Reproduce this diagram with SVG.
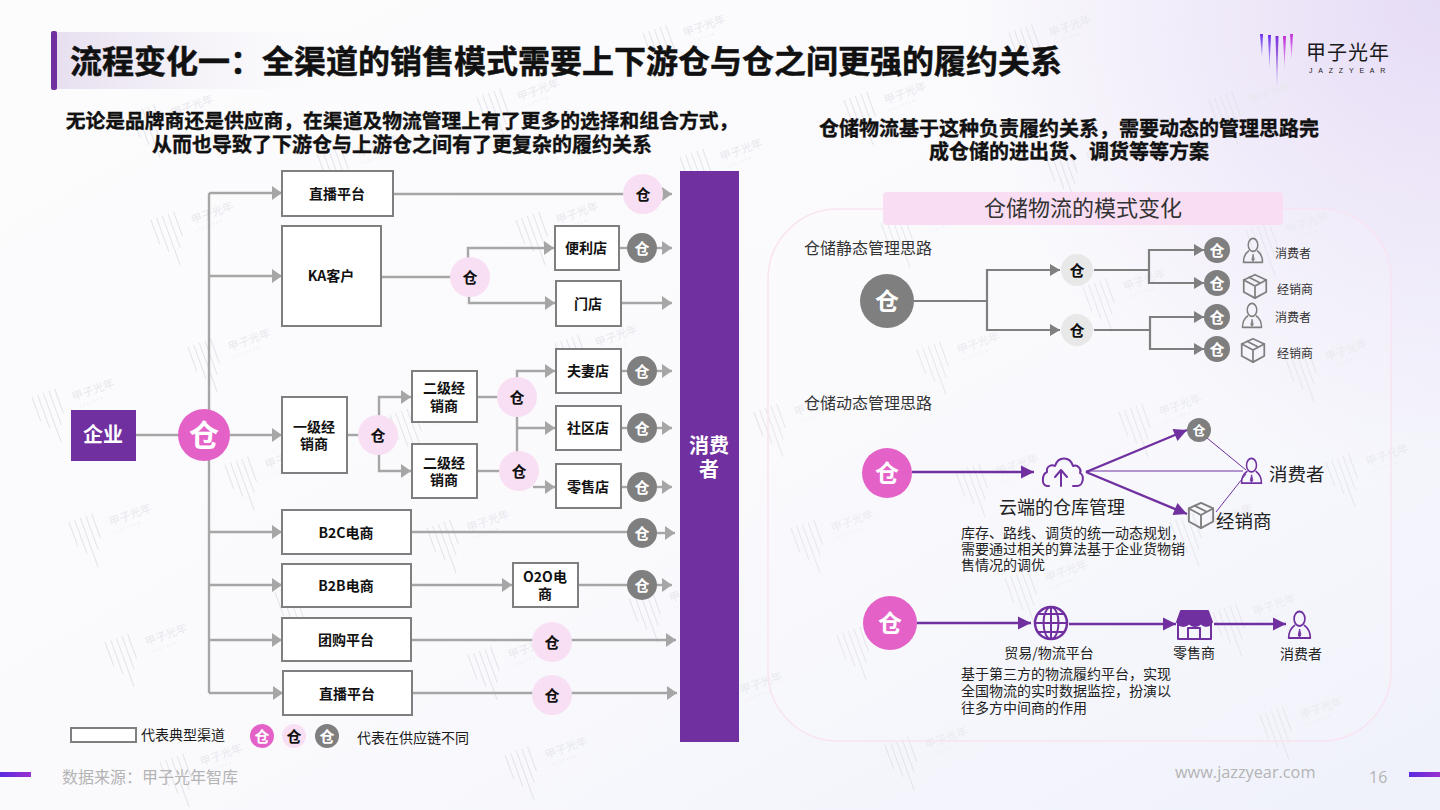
<svg xmlns="http://www.w3.org/2000/svg" width="1440" height="810" viewBox="0 0 1440 810">
<style>
text{font-family:"Noto Sans CJK SC","Noto Sans",sans-serif;fill:#1a1a1a}
.c{text-anchor:middle}
.b{font-weight:700}
.hd{fill:#111;stroke:#111;stroke-width:.35}
.box{fill:#fff;stroke:#7f7f7f;stroke-width:2}
.bl{font-size:14px;font-weight:700;text-anchor:middle;fill:#111}
.g{fill:none;stroke:#a6a6a6;stroke-width:2.4}
.ga{marker-end:url(#ag)}
.d{fill:none;stroke:#7f7f7f;stroke-width:2.2}
.da{marker-end:url(#ad)}
.p{fill:none;stroke:#7030a0;stroke-width:2.4}
.pa{marker-end:url(#ap)}
.t{fill:none;stroke:#7030a0;stroke-width:1}
.big{fill:#e462c8}.pk{fill:#f8dff3}.gy{fill:#7f7f7f}.lg{fill:#e8e8e8}
.w{font-weight:700;text-anchor:middle;fill:#fff}
.k{font-weight:700;text-anchor:middle;fill:#111}
.sm{font-size:12px;fill:#333}
.para{font-size:14px;fill:#222}
.ic{fill:none;stroke-width:2;stroke-linejoin:round;stroke-linecap:round}
.wmb{stroke:#e3e3ea;stroke-width:1;fill:none}
.wmt{font-size:11px;fill:#e8e8ee;font-weight:400}
.wms{font-size:3px;fill:#e8e8ee;letter-spacing:2px}
</style>
<defs>
<linearGradient id="bg1" x1="0" y1="0" x2="1" y2="1"><stop offset="0" stop-color="#fcfcfd"/><stop offset=".55" stop-color="#fafafd"/><stop offset="1" stop-color="#eff1fb"/></linearGradient>
<radialGradient id="bg2" gradientUnits="userSpaceOnUse" cx="1440" cy="0" r="480"><stop offset="0" stop-color="#e6dcf6"/><stop offset="1" stop-color="#e6dcf6" stop-opacity="0"/></radialGradient>
<linearGradient id="tb" x1="0" x2="1" y1="0" y2="0"><stop offset="0" stop-color="#e6deef"/><stop offset="1" stop-color="#f6f4f9" stop-opacity="0"/></linearGradient>
<linearGradient id="fb" x1="0" x2="1" y1="0" y2="0"><stop offset="0" stop-color="#5a2be0"/><stop offset="1" stop-color="#9a30d0"/></linearGradient>
<linearGradient id="l1" x1="0" x2="0" y1="0" y2="1"><stop offset="0" stop-color="#6a2ff0"/><stop offset="1" stop-color="#6a2ff0" stop-opacity=".25"/></linearGradient>
<linearGradient id="l2" x1="0" x2="0" y1="0" y2="1"><stop offset="0" stop-color="#7a2fd8"/><stop offset="1" stop-color="#7a2fd8" stop-opacity=".25"/></linearGradient>
<linearGradient id="l3" x1="0" x2="0" y1="0" y2="1"><stop offset="0" stop-color="#c030d8"/><stop offset="1" stop-color="#c030d8" stop-opacity=".25"/></linearGradient>
<marker id="ag" markerUnits="userSpaceOnUse" markerWidth="11" markerHeight="16" refX="10" refY="7" orient="auto" overflow="visible"><path d="M0 0L10 7L0 14Z" fill="#a6a6a6"/></marker>
<marker id="ad" markerUnits="userSpaceOnUse" markerWidth="11" markerHeight="16" refX="10" refY="6" orient="auto" overflow="visible"><path d="M0 0L10 6L0 12Z" fill="#7f7f7f"/></marker>
<marker id="ap" markerUnits="userSpaceOnUse" markerWidth="14" markerHeight="14" refX="13" refY="6.500" orient="auto" overflow="visible"><path d="M0 0L13 6.500L0 13Z" fill="#7030a0"/></marker>
<g id="wm" transform="rotate(-20)">
<path class="wmb" d="M0 0V26M6 0V36M12 0V52M18 0V36M24 0V26"/>
<text class="wmt" x="38" y="18">甲子光年</text><text class="wms" x="38" y="26">JAZZYEAR</text>
</g>
<symbol id="person" viewBox="0 0 30 30" preserveAspectRatio="none" overflow="visible">
<g class="ic"><ellipse cx="15" cy="8" rx="6.500" ry="7.500"/><path d="M9 15C4 18 2 23 2 28H28C28 23 26 18 21 15"/><path d="M15 19L13.500 25L15 27L16.500 25Z" fill="currentColor" stroke-width="1"/></g>
</symbol>
<symbol id="box3" viewBox="0 0 30 30" overflow="visible">
<g class="ic"><path d="M15 2L28 8V22L15 29L2 22V8Z"/><path d="M2 8L15 15L28 8M15 15V29M8 5L21 11.500"/></g>
</symbol>
</defs>
<rect width="1440" height="810" fill="url(#bg1)"/>
<rect width="1440" height="810" fill="url(#bg2)"/>
<g id="watermarks">
<use href="#wm" x="131" y="113"/><use href="#wm" x="477" y="97"/><use href="#wm" x="643" y="33"/><use href="#wm" x="317" y="153"/><use href="#wm" x="680" y="157"/><use href="#wm" x="151" y="220"/><use href="#wm" x="516" y="220"/><use href="#wm" x="188" y="347"/><use href="#wm" x="32" y="397"/><use href="#wm" x="555" y="343"/><use href="#wm" x="225" y="465"/><use href="#wm" x="390" y="415"/><use href="#wm" x="69" y="522"/><use href="#wm" x="427" y="528"/><use href="#wm" x="105" y="642"/><use href="#wm" x="468" y="655"/><use href="#wm" x="629" y="598"/><use href="#wm" x="160" y="762"/><use href="#wm" x="505" y="755"/><use href="#wm" x="275" y="592"/>
<use href="#wm" x="1009" y="33"/><use href="#wm" x="1209" y="100"/><use href="#wm" x="844" y="100"/><use href="#wm" x="1046" y="157"/><use href="#wm" x="881" y="223"/><use href="#wm" x="1246" y="230"/><use href="#wm" x="1083" y="287"/><use href="#wm" x="917" y="350"/><use href="#wm" x="1285" y="357"/><use href="#wm" x="754" y="412"/><use href="#wm" x="1119" y="412"/><use href="#wm" x="791" y="528"/><use href="#wm" x="956" y="472"/><use href="#wm" x="1170" y="522"/><use href="#wm" x="1326" y="462"/><use href="#wm" x="1005" y="578"/><use href="#wm" x="1213" y="612"/><use href="#wm" x="837" y="635"/><use href="#wm" x="1260" y="715"/><use href="#wm" x="885" y="745"/><use href="#wm" x="700" y="690"/>
</g>
<g id="title">
<rect x="51" y="32" width="290" height="57" fill="url(#tb)"/>
<rect x="51" y="31" width="6" height="59" rx="2" fill="#7030a0"/>
<text x="70" y="73" font-size="32" class="b" style="fill:#111;stroke:#111;stroke-width:.5">流程变化一&#xFF1A;全渠道的销售模式需要上下游仓与仓之间更强的履约关系</text>
</g>
<g id="logo">
<path d="M1260 34L1263 34L1262 58Z" fill="url(#l1)"/><path d="M1268 35L1271 35L1269.500 69Z" fill="url(#l1)"/><path d="M1275.500 36L1278.500 36L1277 88Z" fill="url(#l2)"/><path d="M1283 36L1286 36L1284.500 69Z" fill="url(#l3)"/><path d="M1290 34L1293 34L1291.500 60Z" fill="url(#l3)"/>
<text x="1306" y="60" font-size="20" letter-spacing="1" fill="#222">甲子光年</text>
<text x="1309" y="73" font-size="7" letter-spacing="5.800" fill="#333" style="font-family:'Liberation Sans',sans-serif">JAZZYEAR</text>
</g>
<g id="headings">
<text class="c b hd" x="402" y="128" font-size="19.800">无论是品牌商还是供应商&#xFF0C;在渠道及物流管理上有了更多的选择和组合方式&#xFF0C;</text>
<text class="c b hd" x="402" y="152" font-size="20">从而也导致了下游仓与上游仓之间有了更复杂的履约关系</text>
<text class="c b hd" x="1069" y="136" font-size="20">仓储物流基于这种负责履约关系&#xFF0C;需要动态的管理思路完</text>
<text class="c b hd" x="1069" y="159" font-size="20">成仓储的进出货、调货等等方案</text>
</g>
<g id="consumer"><rect x="680" y="171" width="59" height="571" fill="#7030a0"/><text class="w" x="709" y="453" font-size="20">消费</text><text class="w" x="709" y="477" font-size="20">者</text></g>
<rect id="panel" x="768" y="209" width="623" height="532" rx="70" fill="#fff" fill-opacity=".12" stroke="#f9e3f1" stroke-width="1.500"/>
<g id="connectors">
<path class="g" d="M136 435H180"/>
<path class="g" d="M209 193V693"/>
<path class="g ga" d="M209 193H282"/><path class="g ga" d="M209 276H282"/><path class="g ga" d="M230 435H282"/><path class="g ga" d="M209 532H282"/><path class="g ga" d="M209 585H282"/><path class="g ga" d="M209 640H282"/><path class="g ga" d="M209 693H283"/>
<path class="g" d="M393 194H625"/><path class="g ga" d="M662 194H672"/>
<path class="g" d="M381 277H452"/><path class="g ga" d="M468 260V248H554"/><path class="g ga" d="M469 295V303H555"/>
<path class="g" d="M619 248H630"/><path class="g ga" d="M655 248H672"/><path class="g ga" d="M621 303H672"/>
<path class="g" d="M347 435H360"/><path class="g ga" d="M379 418V397H411"/><path class="g ga" d="M379 452V471H411"/>
<path class="g" d="M477 397H499"/><path class="g" d="M477 471H501"/>
<path class="g ga" d="M517 379V371H555"/><path class="g" d="M517 414V454"/><path class="g ga" d="M517 428H555"/><path class="g ga" d="M533 487H555"/>
<path class="g" d="M621 371H630"/><path class="g ga" d="M655 371H672"/><path class="g" d="M621 428H630"/><path class="g ga" d="M655 428H672"/><path class="g" d="M621 487H630"/><path class="g ga" d="M655 487H672"/>
<path class="g" d="M411 532H630"/><path class="g ga" d="M655 533H675"/>
<path class="g ga" d="M411 585H512"/><path class="g" d="M578 585H630"/><path class="g ga" d="M655 585H672"/>
<path class="g" d="M411 640H535"/><path class="g ga" d="M570 640H676"/>
<path class="g" d="M412 693H535"/><path class="g ga" d="M570 693H677"/>
<path class="d" d="M914 301H987"/><path class="d da" d="M987 301V270H1060"/><path class="d da" d="M987 301V330H1060"/>
<path class="d" d="M1094 270H1149"/><path class="d da" d="M1149 270V250H1204"/><path class="d da" d="M1149 270V283H1204"/>
<path class="d" d="M1094 330H1150"/><path class="d da" d="M1150 330V317H1204"/><path class="d da" d="M1150 330V349H1204"/>
<path class="p pa" d="M912 472H1034"/>
<path class="p pa" d="M1086 472L1187 430"/><path class="p pa" d="M1086 472L1187 514"/>
<path class="t" d="M1086 471H1243"/><path class="t" d="M1207 438L1246 470"/><path class="t" d="M1216 512L1246 474"/>
<path class="p pa" d="M917 623H1031"/><path class="p pa" d="M1069 624H1176"/><path class="p pa" d="M1214 624H1286"/>
</g>
<g id="n-enterprise"><rect x="71" y="410" width="65" height="51" fill="#7030a0"/><text class="w" x="103" y="442" font-size="20">企业</text></g>
<g id="n-wh-main"><circle cx="204" cy="435" r="26" class="big"/><text class="w" x="204" y="446" font-size="30">仓</text></g>
<g id="n-live1"><rect class="box" x="282" y="171" width="111" height="45"/><text class="bl" x="337" y="199">直播平台</text></g>
<g id="n-ka"><rect class="box" x="282" y="226" width="99" height="100"/><text class="bl" x="331" y="281">KA客户</text></g>
<g id="n-first"><rect class="box" x="282" y="397" width="65" height="76"/><text class="bl" x="314" y="432">一级经</text><text class="bl" x="314" y="449">销商</text></g>
<g id="n-second1"><rect class="box" x="412" y="371" width="65" height="51"/><text class="bl" x="444" y="393">二级经</text><text class="bl" x="444" y="411">销商</text></g>
<g id="n-second2"><rect class="box" x="412" y="444" width="65" height="54"/><text class="bl" x="444" y="468">二级经</text><text class="bl" x="444" y="485">销商</text></g>
<g id="n-conv"><rect class="box" x="555" y="226" width="64" height="44"/><text class="bl" x="586" y="253">便利店</text></g>
<g id="n-door"><rect class="box" x="556" y="281" width="65" height="45"/><text class="bl" x="588" y="309">门店</text></g>
<g id="n-couple"><rect class="box" x="556" y="349" width="65" height="44"/><text class="bl" x="588" y="376">夫妻店</text></g>
<g id="n-comm"><rect class="box" x="556" y="406" width="65" height="44"/><text class="bl" x="588" y="433">社区店</text></g>
<g id="n-retail"><rect class="box" x="556" y="464" width="65" height="44"/><text class="bl" x="588" y="492">零售店</text></g>
<g id="n-b2c"><rect class="box" x="282" y="510" width="129" height="44"/><text class="bl" x="346" y="538">B2C电商</text></g>
<g id="n-b2b"><rect class="box" x="282" y="564" width="129" height="43"/><text class="bl" x="346" y="591">B2B电商</text></g>
<g id="n-group"><rect class="box" x="282" y="618" width="129" height="43"/><text class="bl" x="346" y="645">团购平台</text></g>
<g id="n-live2"><rect class="box" x="283" y="671" width="129" height="44"/><text class="bl" x="347" y="699">直播平台</text></g>
<g id="n-o2o"><rect class="box" x="513" y="563" width="65" height="44"/><text class="bl" x="545" y="582">O2O电</text><text class="bl" x="545" y="599">商</text></g>
<g id="wh-pink" font-size="15">
<g><circle cx="643" cy="194" r="20" class="pk"/><text class="k" x="643" y="200">仓</text></g>
<g><circle cx="470" cy="277" r="20" class="pk"/><text class="k" x="470" y="283">仓</text></g>
<g><circle cx="378" cy="435" r="20" class="pk"/><text class="k" x="378" y="441">仓</text></g>
<g><circle cx="517" cy="397" r="20" class="pk"/><text class="k" x="517" y="403">仓</text></g>
<g><circle cx="519" cy="471" r="20" class="pk"/><text class="k" x="519" y="477">仓</text></g>
<g><circle cx="552" cy="642" r="20" class="pk"/><text class="k" x="552" y="648">仓</text></g>
<g><circle cx="552" cy="695" r="20" class="pk"/><text class="k" x="552" y="701">仓</text></g>
</g>
<g id="wh-grey" font-size="15">
<g><circle cx="642" cy="248" r="15" class="gy"/><text class="w" x="642" y="254">仓</text></g>
<g><circle cx="642" cy="371" r="15" class="gy"/><text class="w" x="642" y="377">仓</text></g>
<g><circle cx="642" cy="428" r="15" class="gy"/><text class="w" x="642" y="434">仓</text></g>
<g><circle cx="642" cy="487" r="15" class="gy"/><text class="w" x="642" y="493">仓</text></g>
<g><circle cx="642" cy="533" r="15" class="gy"/><text class="w" x="642" y="539">仓</text></g>
<g><circle cx="642" cy="585" r="15" class="gy"/><text class="w" x="642" y="591">仓</text></g>
</g>
<g id="legend">
<rect x="71" y="728" width="65" height="14" fill="#fff" stroke="#7f7f7f" stroke-width="2"/>
<text x="141" y="740" font-size="14" fill="#222">代表典型渠道</text>
<circle cx="262" cy="736" r="12" class="big"/><text class="w" x="262" y="742" font-size="15">仓</text>
<circle cx="294" cy="736" r="12" class="pk"/><text class="k" x="294" y="742" font-size="15">仓</text>
<circle cx="327" cy="736" r="12" class="gy"/><text class="w" x="327" y="742" font-size="15">仓</text>
<text x="357" y="743" font-size="14" fill="#222">代表在供应链不同</text>
</g>
<g id="footer">
<rect x="0" y="772" width="31" height="5" fill="url(#fb)"/><rect x="1409" y="772" width="31" height="5" fill="url(#fb)"/>
<text x="62" y="783" font-size="16" style="fill:#b4b4b4">数据来源&#xFF1A;甲子光年智库</text>
<text x="1175" y="778" font-size="16.300" style="fill:#b4b4b4;font-family:'Open Sans',sans-serif">www.jazzyear.com</text>
<text x="1369" y="783" font-size="16" style="fill:#b4b4b4;font-family:'Open Sans',sans-serif">16</text>
</g>
<g id="panel-title"><rect x="883" y="192" width="400" height="33" rx="4" fill="#f9def3"/><text class="c" x="1083" y="216" font-size="22" style="fill:#333">仓储物流的模式变化</text></g>
<text x="804" y="254" font-size="16" style="fill:#333">仓储静态管理思路</text>
<text x="804" y="409" font-size="16" style="fill:#333">仓储动态管理思路</text>
<g id="static-nodes">
<g><circle cx="887" cy="301" r="27" class="gy"/><text class="w" x="887" y="310" font-size="24">仓</text></g>
<g><circle cx="1077" cy="270" r="16" class="lg"/><text class="k" x="1077" y="276" font-size="15">仓</text></g>
<g><circle cx="1077" cy="330" r="16" class="lg"/><text class="k" x="1077" y="336" font-size="15">仓</text></g>
<g><circle cx="1217" cy="250" r="13" class="gy"/><text class="w" x="1217" y="256" font-size="15">仓</text></g>
<g><circle cx="1217" cy="283" r="13" class="gy"/><text class="w" x="1217" y="289" font-size="15">仓</text></g>
<g><circle cx="1217" cy="317" r="13" class="gy"/><text class="w" x="1217" y="323" font-size="15">仓</text></g>
<g><circle cx="1217" cy="349" r="13" class="gy"/><text class="w" x="1217" y="355" font-size="15">仓</text></g>
<use href="#person" x="1242" y="238" width="22" height="26" color="#7f7f7f" stroke="#7f7f7f"/>
<use href="#box3" x="1242" y="273" width="26" height="26" color="#7f7f7f" stroke="#7f7f7f"/>
<use href="#person" x="1241" y="303" width="22" height="26" color="#7f7f7f" stroke="#7f7f7f"/>
<use href="#box3" x="1240" y="337" width="26" height="26" color="#7f7f7f" stroke="#7f7f7f"/>
<text class="sm c" x="1293" y="258">消费者</text><text class="sm c" x="1295" y="294">经销商</text><text class="sm c" x="1293" y="322">消费者</text><text class="sm c" x="1295" y="358">经销商</text>
</g>
<g id="dynamic-nodes">
<g><circle cx="887" cy="473" r="25" class="big"/><text class="w" x="887" y="482" font-size="24">仓</text></g>
<g id="cloud" stroke="#7030a0"><path class="ic" d="M1049 486H1047C1041 486 1042 474 1047 472C1046 466 1052 464 1055 466C1058 456 1070 456 1073 466C1078 464 1082 470 1080 473C1085 476 1083 486 1077 486H1073"/><path class="ic" d="M1061 486V472M1055 477L1061 470L1067 477"/></g>
<g><circle cx="1199" cy="430" r="12" class="gy"/><text class="w" x="1199" y="435" font-size="13">仓</text></g>
<use href="#person" x="1240" y="458" width="23" height="27" color="#7030a0" stroke="#7030a0"/>
<use href="#box3" x="1187" y="501" width="28" height="28" color="#7f7f7f" stroke="#7f7f7f"/>
<text x="1269" y="481" font-size="18.500" style="fill:#222">消费者</text>
<text x="1216" y="528" font-size="18.500" style="fill:#222">经销商</text>
<text class="c" x="1062" y="514" font-size="18" style="fill:#222">云端的仓库管理</text>
<text class="para" x="961" y="538">库存、路线、调货的统一动态规划&#xFF0C;</text>
<text class="para" x="961" y="554">需要通过相关的算法基于企业货物销</text>
<text class="para" x="961" y="570">售情况的调优</text>
</g>
<g id="platform-nodes">
<g><circle cx="890" cy="623" r="27" class="big"/><text class="w" x="890" y="632" font-size="24">仓</text></g>
<g id="globe" class="ic" stroke="#7030a0"><circle cx="1051" cy="623" r="16" stroke-width="2.500"/><ellipse cx="1051" cy="623" rx="7.500" ry="16"/><path d="M1035 623H1067M1038 614H1064M1038 632H1064M1051 607V639"/></g>
<g id="store" class="ic" stroke="#7030a0"><path d="M1178 622V639H1211V622"/><path d="M1181 611H1208L1212 622C1209 627 1204 627 1201 623C1198 627 1192 627 1189 623C1186 627 1180 627 1177 622Z" fill="#7030a0"/><rect x="1188" y="628" width="12" height="11"/></g>
<use href="#person" x="1287" y="611" width="25" height="29" color="#7030a0" stroke="#7030a0"/>
<text class="c" x="1049" y="658" font-size="14" style="fill:#222">贸易/物流平台</text>
<text class="c" x="1194" y="658" font-size="14" style="fill:#222">零售商</text>
<text class="c" x="1301" y="659" font-size="14" style="fill:#222">消费者</text>
<text class="para" x="961" y="679">基于第三方的物流履约平台&#xFF0C;实现</text>
<text class="para" x="961" y="696">全国物流的实时数据监控&#xFF0C;扮演以</text>
<text class="para" x="961" y="713">往多方中间商的作用</text>
</g>
</svg>
